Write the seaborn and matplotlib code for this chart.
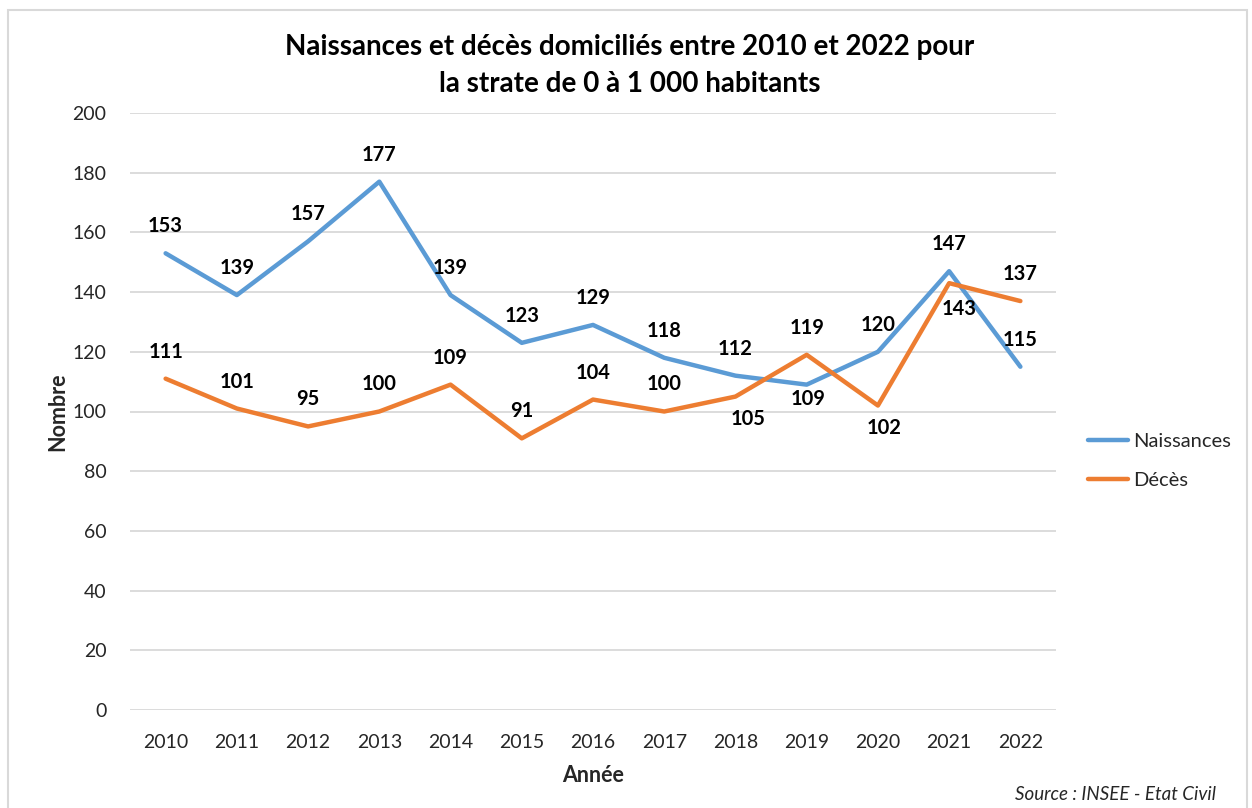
import matplotlib
matplotlib.use("Agg")
import matplotlib.pyplot as plt
import seaborn as sns
import pandas as pd
from matplotlib.patches import Rectangle
from matplotlib.lines import Line2D

years = [2010, 2011, 2012, 2013, 2014, 2015, 2016, 2017, 2018, 2019, 2020, 2021, 2022]
naissances = [153, 139, 157, 177, 139, 123, 129, 118, 112, 109, 120, 147, 115]
deces = [111, 101, 95, 100, 109, 91, 104, 100, 105, 119, 102, 143, 137]
series_names = ["Naissances", "Décès"]
colors = ["#5B9BD5", "#ED7D31"]
y_ticks = [0, 20, 40, 60, 80, 100, 120, 140, 160, 180, 200]

sns.set_theme(style="white")
plt.rcParams["font.family"] = ["Lato", "DejaVu Sans"]

W, H = 1252, 808
fig = plt.figure(figsize=(W / 100, H / 100), dpi=100)
fig.patch.set_facecolor("white")
ax = fig.add_axes([130 / W, 1 - 710 / H, (1056 - 130) / W, (710 - 113) / H])

df = pd.DataFrame({
    "pos": list(range(len(years))) * 2,
    "value": naissances + deces,
    "serie": [series_names[0]] * len(years) + [series_names[1]] * len(years),
})
sns.lineplot(data=df, x="pos", y="value", hue="serie", palette=colors,
             linewidth=3.2, ax=ax, legend=False, sort=False,
             solid_capstyle="round", solid_joinstyle="round", zorder=3)

ax.set_xlim(-0.5, len(years) - 0.5)
ax.set_ylim(0, 200)
ax.set_yticks(y_ticks)
ax.set_xticks(range(len(years)))
ax.set_xticklabels([str(y) for y in years])
ax.grid(axis="y", color="#D9D9D9", linewidth=1.3, zorder=0)
ax.grid(axis="x", visible=False)
for s in ax.spines.values():
    s.set_visible(False)
ax.tick_params(axis="both", length=0, labelsize=14, colors="#262626")
ax.tick_params(axis="y", pad=17)
ax.tick_params(axis="x", pad=17)
ax.set_xlabel("Année", fontsize=15.5, fontweight="bold", color="#262626", labelpad=10)
ax.set_ylabel("Nombre", fontsize=15.5, fontweight="bold", color="#262626", labelpad=3)

# label placement (pixel offsets); positive = above
offs_n = {9: (1, -14)}
offs_d = {8: (13, -22), 10: (6, -22), 11: (10, -26)}
for i, v in enumerate(naissances):
    dx, dy = offs_n.get(i, (0, 27))
    ax.annotate(str(v), (i, v), xytext=(dx, dy), textcoords="offset pixels",
                ha="center", va="center", fontsize=14.5, fontweight="bold",
                color="#000000", zorder=5)
for i, v in enumerate(deces):
    dx, dy = offs_d.get(i, (0, 27))
    ax.annotate(str(v), (i, v), xytext=(dx, dy), textcoords="offset pixels",
                ha="center", va="center", fontsize=14.5, fontweight="bold",
                color="#000000", zorder=5)

handles = [Line2D([0], [0], color=c, linewidth=3.2, solid_capstyle="round") for c in colors]
leg = fig.legend(handles, series_names, loc="center left",
                 bbox_to_anchor=(1080 / W, 1 - 461 / H), frameon=False,
                 fontsize=14.5, handlelength=2.0, handletextpad=0.25,
                 labelspacing=1.05, borderaxespad=0)
for t in leg.get_texts():
    t.set_color("#262626")

fig.text(630 / W, 1 - 47 / H, "Naissances et décès domiciliés entre 2010 et 2022 pour",
         ha="center", va="center", fontsize=20, fontweight="bold", color="#000000")
fig.text(630 / W, 1 - 84 / H, "la strate de 0 à 1 000 habitants",
         ha="center", va="center", fontsize=20, fontweight="bold", color="#000000")
fig.text(1216 / W, 1 - 795 / H, "Source : INSEE - Etat Civil", ha="right", va="center",
         fontsize=13.5, fontstyle="italic", color="#262626")

fig.patches.append(Rectangle((8 / W, -0.05), (1247 - 8) / W, 1.05 - 10 / H,
                             transform=fig.transFigure, fill=False,
                             edgecolor="#D9D9D9", linewidth=1.5))

fig.savefig("out.png", dpi=100, facecolor="white")
